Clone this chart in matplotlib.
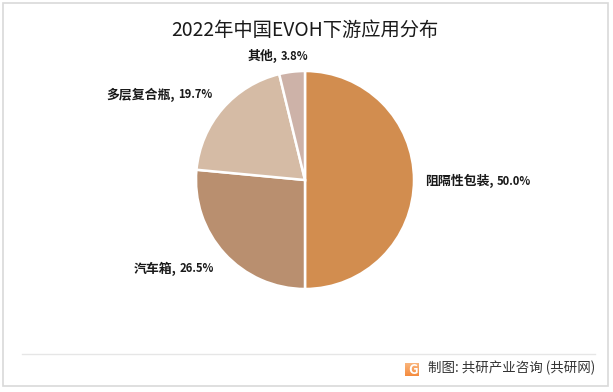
import matplotlib
matplotlib.use('Agg')
import matplotlib.pyplot as plt
from matplotlib.lines import Line2D
from matplotlib.patches import Rectangle
import numpy as np

plt.rcParams['font.family'] = ['Noto Sans CJK SC', 'DejaVu Sans']

W, H = 613, 392

categories = ['阻隔性包装', '汽车箱', '多层复合瓶', '其他']
values = [50.0, 26.5, 19.7, 3.8]
colors = ['#D28D4F', '#B98F6F', '#D5BBA5', '#CDB2A8']
title = '2022年中国EVOH下游应用分布'
source = '制图: 共研产业咨询 (共研网)'

# label start, label end and y, in pixels from top left
label_pos = [(425, 531, 181), (134, 214, 269), (106, 212, 95), (248, 308, 56)]


def fx(px):
    return px / W


def fy(py):
    return 1 - py / H


fig = plt.figure(figsize=(W / 100, H / 100), dpi=100, facecolor='white')

# outer frame
fig.add_artist(Rectangle((fx(2.5), fy(385.5)), 605 / W, 382.5 / H, transform=fig.transFigure,
                         fill=False, edgecolor='#D9D9D9', linewidth=1.2))

# pie
cx, cy, r = 305, 180, 109
ax = fig.add_axes([fx(cx - r), fy(cy + r), 2 * r / W, 2 * r / H])
ax.pie(values, colors=colors, startangle=90, counterclock=False, radius=1,
       wedgeprops={'edgecolor': 'white', 'linewidth': 1.8})
ax.set_xlim(-1, 1)
ax.set_ylim(-1, 1)

# CJK part is wider and the numbers narrower than one font gives, so two texts
for cat, val, pos in zip(categories, values, label_pos):
    fig.text(fx(pos[0]), fy(pos[2]), cat + ',', fontsize=9.3, fontweight='bold',
             color='#1A1A1A', ha='left', va='center')
    fig.text(fx(pos[1]), fy(pos[2]), '%.1f%%' % val, fontsize=8.1, fontweight='bold',
             color='#1A1A1A', ha='right', va='center')

fig.text(fx(305), fy(30), title, fontsize=13.9, color='#1A1A1A', ha='center', va='center')

# footer
fig.add_artist(Line2D([fx(22), fx(595)], [fy(354), fy(354)], color='#E6E6E6', linewidth=1))
fig.text(fx(427.5), fy(368), source, fontsize=9.7, color='#333333', ha='left', va='center')

# logo
logo = fig.add_axes([fx(405), fy(376.5), 14 / W, 14 / H])
grad = np.linspace(0, 1, 20).reshape(-1, 1, 1)
c1 = np.array([0.98, 0.72, 0.50]).reshape(1, 1, 3)
c2 = np.array([0.96, 0.55, 0.25]).reshape(1, 1, 3)
logo.imshow(c1 * (1 - grad) + c2 * grad, aspect='auto')
logo.axis('off')
logo.text(0.55, 0.45, 'G', transform=logo.transAxes, color='white', fontsize=9.5,
          fontweight='bold', ha='center', va='center')

fig.savefig('out.png', dpi=100, facecolor='white')
